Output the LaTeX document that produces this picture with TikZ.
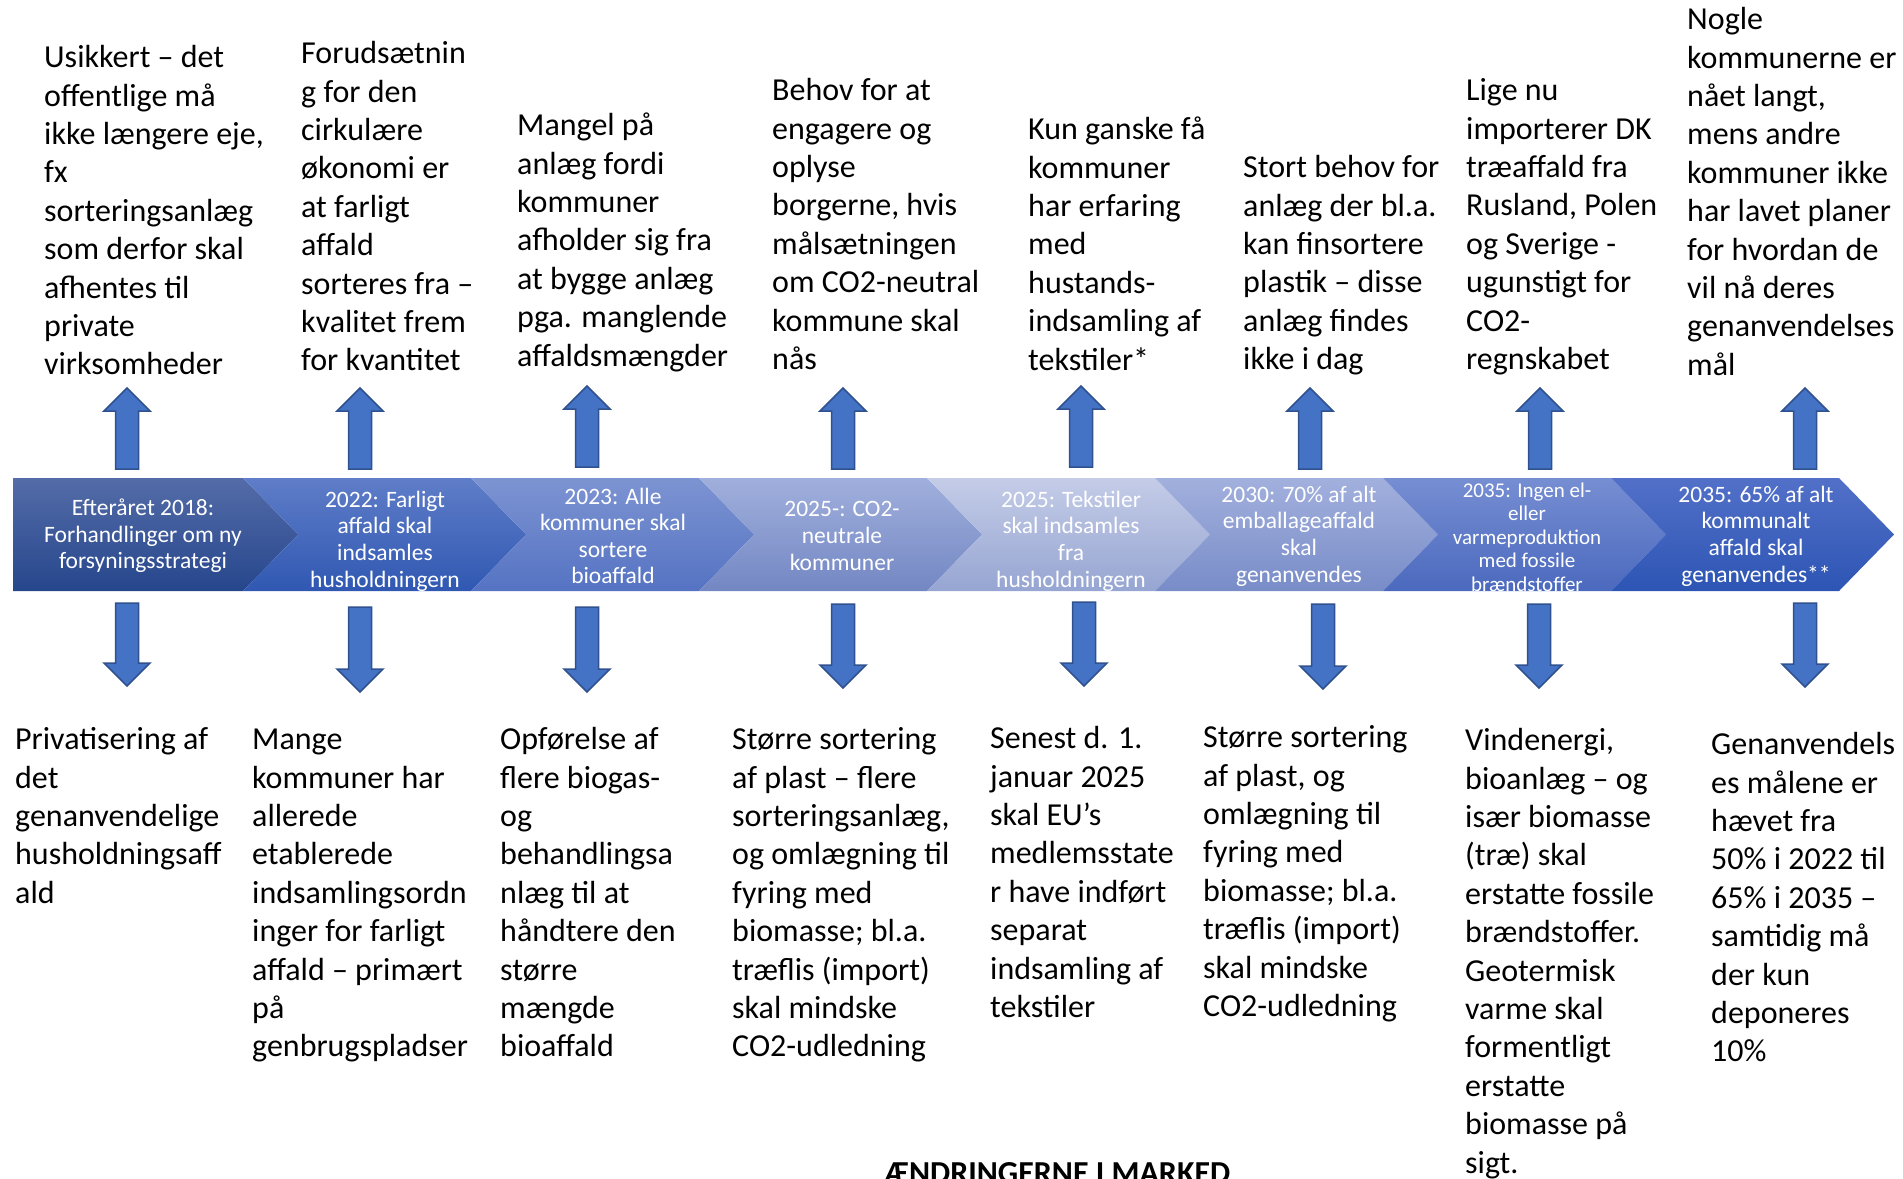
\documentclass[tikz,border=0pt]{standalone}
\usepackage{fontspec}
\setmainfont{Carlito}
\definecolor{arrowblue}{RGB}{68,114,196}
\definecolor{arrowedge}{RGB}{47,82,143}
\definecolor{cAt}{RGB}{84,108,168}\definecolor{cAb}{RGB}{38,70,140}
\definecolor{cBt}{RGB}{95,125,200}\definecolor{cBb}{RGB}{48,88,178}
\definecolor{cCt}{RGB}{125,148,210}\definecolor{cCb}{RGB}{85,115,195}
\definecolor{cDt}{RGB}{160,175,220}\definecolor{cDb}{RGB}{115,135,195}
\definecolor{cEt}{RGB}{196,204,231}\definecolor{cEb}{RGB}{150,165,210}
\definecolor{cFt}{RGB}{162,176,221}\definecolor{cFb}{RGB}{120,140,200}
\definecolor{cGt}{RGB}{118,142,210}\definecolor{cGb}{RGB}{75,105,190}
\definecolor{cHt}{RGB}{82,112,200}\definecolor{cHb}{RGB}{45,85,180}
\newcommand\fl{\rule{0pt}{26pt}}
\newcommand\myUpArrow[3]{%
  \draw[blockarrow] (#1,#2) -- (#1+23,#2+23) -- (#1+11.5,#2+23) -- (#1+11.5,#3) -- (#1-11.5,#3) -- (#1-11.5,#2+23) -- (#1-23,#2+23) -- cycle;}
\newcommand\myDownArrow[3]{%
  \draw[blockarrow] (#1,#3) -- (#1+23,#3-23) -- (#1+11.5,#3-23) -- (#1+11.5,#2) -- (#1-11.5,#2) -- (#1-11.5,#3-23) -- (#1-23,#3-23) -- cycle;}
\newcommand\myChev[4]{%
  \shade[top color=#3, bottom color=#4] (#1,478) -- (#2,478) -- (#2+55,534.5) -- (#2,591) -- (#1,591) -- (#1+55,534.5) -- cycle;}
\begin{document}
\begin{tikzpicture}[x=1pt,y=-1pt,
  topbox/.style={anchor=north west, inner sep=0pt, align=left, font=\fontsize{32}{38.4}\selectfont},
  chevtext/.style={text=white, align=center, inner sep=0pt, font=\fontsize{23.5}{26.6}\selectfont},
  blockarrow/.style={fill=arrowblue, draw=arrowedge, line width=1.5pt, line join=miter}]
\useasboundingbox (0,0) rectangle (1903,1178);
% chevron band
\shade[top color=cAt, bottom color=cAb] (13,478) -- (243,478) -- (298,534.5) -- (243,591) -- (13,591) -- cycle;
\myChev{243}{471}{cBt}{cBb}
\myChev{471}{699}{cCt}{cCb}
\myChev{699}{927}{cDt}{cDb}
\myChev{927}{1155}{cEt}{cEb}
\myChev{1155}{1383}{cFt}{cFb}
\myChev{1383}{1611}{cGt}{cGb}
\myChev{1611}{1839}{cHt}{cHb}
% chevron texts
\node[chevtext] (c1) at (143,536) {Efteråret 2018:\\Forhandlinger om ny\\forsyningsstrategi};
\node[chevtext] (c2) at (385,541) {2022: Farligt\\affald skal\\indsamles\\husholdningern};
\node[chevtext] (c3) at (613,536) {2023: Alle\\kommuner skal\\sortere\\bioaffald};
\node[chevtext] (c4) at (842,536) {2025-: CO2-\\neutrale\\kommuner};
\node[chevtext] (c5) at (1071,541) {2025: Tekstiler\\skal indsamles\\fra\\husholdningern};
\node[chevtext] (c6) at (1299,536) {2030: 70\% af alt\\emballageaffald\\skal\\genanvendes};
\node[chevtext, font=\fontsize{21}{23.4}\selectfont] (c7) at (1527,537) {2035: Ingen el-\\eller\\varmeproduktion\\med fossile\\brændstoffer};
\node[chevtext] (c8) at (1756,536) {2035: 65\% af alt\\kommunalt\\affald skal\\genanvendes**};
% up arrows
\myUpArrow{127}{388}{469}
\myUpArrow{360}{388}{469}
\myUpArrow{587}{386}{467}
\myUpArrow{843}{388}{469}
\myUpArrow{1081}{386}{467}
\myUpArrow{1310}{388}{469}
\myUpArrow{1540}{388}{469}
\myUpArrow{1805}{388}{469}
% down arrows
\myDownArrow{127}{603}{686}
\myDownArrow{360}{607}{692}
\myDownArrow{587}{607}{692}
\myDownArrow{843}{604}{688}
\myDownArrow{1084}{602}{686}
\myDownArrow{1323}{604}{689}
\myDownArrow{1539}{604}{688}
\myDownArrow{1805}{603}{687}
% top texts
\node[topbox] (t1) at (44,41.5) {\fl Usikkert – det\\offentlige må\\ikke længere eje,\\fx\\sorteringsanlæg\\som derfor skal\\afhentes til\\private\\virksomheder};
\node[topbox] (t2) at (301,37.5) {\fl Forudsætnin\\g for den\\cirkulære\\økonomi er\\at farligt\\affald\\sorteres fra –\\kvalitet frem\\for kvantitet};
\node[topbox] (t3) at (517,109.5) {\fl Mangel på\\anlæg fordi\\kommuner\\afholder sig fra\\at bygge anlæg\\pga. manglende\\affaldsmængder};
\node[topbox] (t4) at (772,74.5) {\fl Behov for at\\engagere og\\oplyse\\borgerne, hvis\\målsætningen\\om CO2-neutral\\kommune skal\\nås};
\node[topbox] (t5) at (1028,113.5) {\fl Kun ganske få\\kommuner\\har erfaring\\med\\hustands-\\indsamling af\\tekstiler*};
\node[topbox] (t6) at (1243,151.5) {\fl Stort behov for\\anlæg der bl.a.\\kan finsortere\\plastik – disse\\anlæg findes\\ikke i dag};
\node[topbox] (t7) at (1466,74.5) {\fl Lige nu\\importerer DK\\træaffald fra\\Rusland, Polen\\og Sverige -\\ugunstigt for\\CO2-\\regnskabet};
\node[topbox] (t8) at (1687,3.5) {\fl Nogle\\kommunerne er\\nået langt,\\mens andre\\kommuner ikke\\har lavet planer\\for hvordan de\\vil nå deres\\genanvendelses\\mål};
% bottom texts
\node[topbox] (b1) at (15,723.5) {\fl Privatisering af\\det\\genanvendelige\\husholdningsaff\\ald};
\node[topbox] (b2) at (252,723.5) {\fl Mange\\kommuner har\\allerede\\etablerede\\indsamlingsordn\\inger for farligt\\affald – primært\\på\\genbrugspladser};
\node[topbox] (b3) at (500,723.5) {\fl Opførelse af\\flere biogas-\\og\\behandlingsa\\nlæg til at\\håndtere den\\større\\mængde\\bioaffald};
\node[topbox] (b4) at (732,723.5) {\fl Større sortering\\af plast – flere\\sorteringsanlæg,\\og omlægning til\\fyring med\\biomasse; bl.a.\\træflis (import)\\skal mindske\\CO2-udledning};
\node[topbox] (b5) at (990,722.5) {\fl Senest d. 1.\\januar 2025\\skal EU’s\\medlemsstate\\r have indført\\separat\\indsamling af\\tekstiler};
\node[topbox] (b6) at (1203,721.5) {\fl Større sortering\\af plast, og\\omlægning til\\fyring med\\biomasse; bl.a.\\træflis (import)\\skal mindske\\CO2-udledning};
\node[topbox] (b7) at (1465,724.5) {\fl Vindenergi,\\bioanlæg – og\\især biomasse\\(træ) skal\\erstatte fossile\\brændstoffer.\\Geotermisk\\varme skal\\formentligt\\erstatte\\biomasse på\\sigt.};
\node[topbox] (b8) at (1711,728.5) {\fl Genanvendels\\es målene er\\hævet fra\\50\% i 2022 til\\65\% i 2035 –\\samtidig må\\der kun\\deponeres\\10\%};
% title (cut off at bottom, as in the reference)
\node[anchor=base west, inner sep=0pt, font=\fontsize{32}{38}\selectfont\bfseries] (title) at (884,1183) {ÆNDRINGERNE I MARKED};
\end{tikzpicture}
\end{document}
